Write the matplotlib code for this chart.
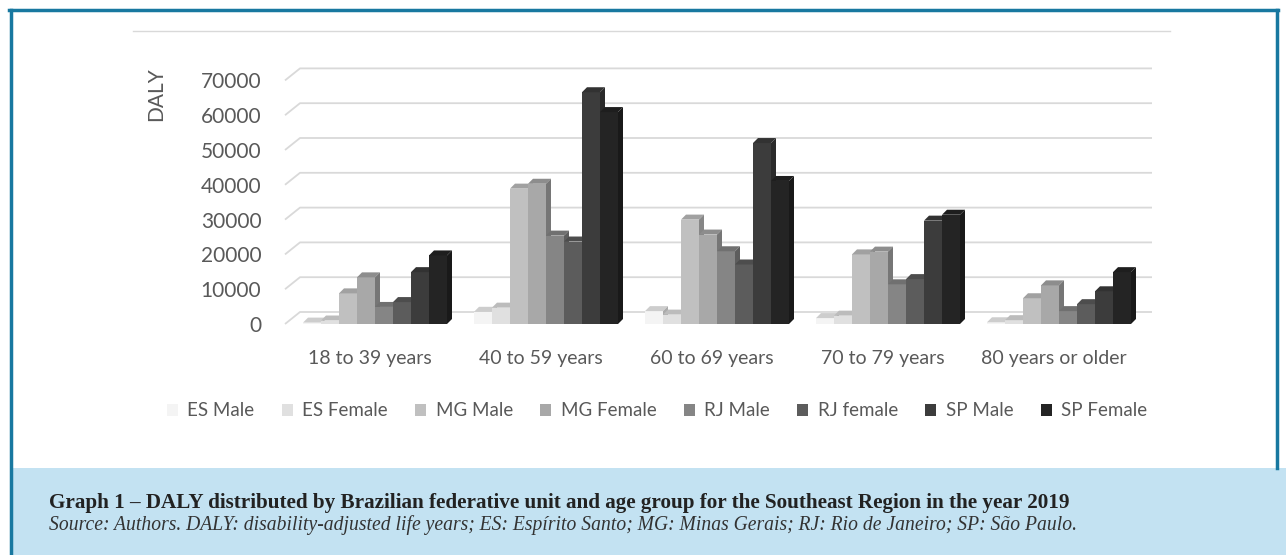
import numpy as np
import matplotlib.pyplot as plt
from matplotlib.patches import Polygon, Rectangle
from matplotlib.lines import Line2D

# ---------------- DATA ----------------
age_groups = ["18 to 39 years", "40 to 59 years", "60 to 69 years", "70 to 79 years", "80 years or older"]
series_names = ["ES Male", "ES Female", "MG Male", "MG Female", "RJ Male", "RJ female", "SP Male", "SP Female"]
es_male = [400, 3500, 3700, 1700, 500]
es_female = [1000, 4700, 2700, 2400, 1100]
mg_male = [8800, 38900, 30000, 20000, 7400]
mg_female = [13400, 40300, 25700, 20800, 11100]
rj_male = [4900, 25400, 20900, 11400, 3700]
rj_female = [6300, 23700, 17100, 12900, 5700]
sp_male = [14900, 66600, 52000, 29700, 9400]
sp_female = [19700, 60900, 41100, 31400, 14900]
all_series = [es_male, es_female, mg_male, mg_female, rj_male, rj_female, sp_male, sp_female]
yticks = [0, 10000, 20000, 30000, 40000, 50000, 60000, 70000]

front_colors = ["#f4f4f4", "#e0e0e0", "#c0c0c0", "#a8a8a8", "#858585", "#5c5c5c", "#3c3c3c", "#242424"]

# ---------------- FIGURE ----------------
W, H = 1286, 555
fig = plt.figure(figsize=(W / 100, H / 100), dpi=100)
plt.rcParams['font.family'] = ['Lato', 'DejaVu Sans']

ax = fig.add_axes([285 / W, 1 - 324 / H, 875 / W, 284 / H])
px_x = 1 / 171          # one pixel in category units
px_y = 10000 / 34.8     # one pixel in DALY units
ax.set_xlim(-90 * px_x, 785 * px_x)
ax.set_ylim(0, 284 * px_y)
for s in ax.spines.values():
    s.set_visible(False)

# back-wall gridlines with the little diagonal on the side wall
gdx, gdy = 15 * px_x, 12 * px_y
x0 = ax.get_xlim()[0]
x_end = 777 * px_x
for v in yticks:
    ax.plot([x0, x0 + gdx, x_end], [v, v + gdy, v + gdy], color="#d9d9d9", lw=1.3,
            zorder=1, clip_on=False, solid_capstyle="butt")

# bars (front faces) + pseudo 3D tops and sides
x = np.arange(len(age_groups))
bw = 18 * px_x
ddx, ddy = 5 * px_x, 5 * px_y
handles = []
for j, (vals, col) in enumerate(zip(all_series, front_colors)):
    left = x - 4 * bw + j * bw
    z = 3 + j * 0.1
    bars = ax.bar(left, vals, width=bw, align="edge", color=col, label=series_names[j],
                  zorder=z, linewidth=0)
    handles.append(bars)
    rgb = np.array(plt.matplotlib.colors.to_rgb(col))
    for b in bars:
        bx, bwid, bh = b.get_x(), b.get_width(), b.get_height()
        top = Polygon([(bx, bh), (bx + ddx, bh + ddy), (bx + bwid + ddx, bh + ddy), (bx + bwid, bh)],
                      closed=True, facecolor=rgb * 0.84, edgecolor="none", zorder=z + 0.05, clip_on=False)
        side = Polygon([(bx + bwid, 0), (bx + bwid + ddx, ddy), (bx + bwid + ddx, bh + ddy), (bx + bwid, bh)],
                       closed=True, facecolor=rgb * 0.7, edgecolor="none", zorder=z + 0.05, clip_on=False)
        ax.add_patch(top)
        ax.add_patch(side)

ax.set_xticks(x - 5 * px_x)
ax.set_xticklabels(age_groups, fontsize=14, color="#595959")
ax.set_yticks(yticks)
ax.set_yticklabels([str(v) for v in yticks], fontsize=15, color="#595959")
ax.tick_params(length=0)
ax.tick_params(axis="y", pad=17)
ax.tick_params(axis="x", pad=19)

fig.text(156 / W, 1 - 94 / H, "DALY", rotation=90, fontsize=15, color="#595959",
         ha="center", va="center")

fig.legend(handles=handles, labels=series_names, ncol=8, loc="center",
           bbox_to_anchor=(657 / W, 1 - 411 / H), frameon=False, fontsize=13.5,
           handlelength=0.6, handleheight=0.6, handletextpad=0.5, columnspacing=1.45,
           labelcolor="#595959")

# chart outline top edge
fig.add_artist(Line2D([133 / W, 1170 / W], [1 - 31 / H, 1 - 31 / H], color="#d9d9d9", lw=1))

# caption box + frame
fig.add_artist(Rectangle((12 / W, 0), 1 - 12 / W, 87 / H, transform=fig.transFigure,
                         facecolor="#c3e2f2", edgecolor="none", zorder=0))
frame = "#1878a0"
fig.add_artist(Line2D([10.5 / W, 10.5 / W], [0, 1 - 9.5 / H], color=frame, lw=2.5))
fig.add_artist(Line2D([9 / W, 1278 / W], [1 - 9.5 / H, 1 - 9.5 / H], color=frame, lw=2.5))
fig.add_artist(Line2D([1277 / W, 1277 / W], [1 - 9.5 / H, 1 - 468 / H], color=frame, lw=2.5))

fig.text(49 / W, 1 - 503 / H,
         "Graph 1 \u2013 DALY distributed by Brazilian federative unit and age group for the Southeast Region in the year 2019",
         fontsize=15.2, fontweight="bold", family=["Liberation Serif"], color="#222222", va="center")
fig.text(49 / W, 1 - 525 / H,
         "Source: Authors. DALY: disability-adjusted life years; ES: Esp\u00edrito Santo; MG: Minas Gerais; RJ: Rio de Janeiro; SP: S\u00e3o Paulo.",
         fontsize=14.1, fontstyle="italic", family=["Liberation Serif"], color="#333333", va="center")

fig.savefig("out.png", dpi=100)
